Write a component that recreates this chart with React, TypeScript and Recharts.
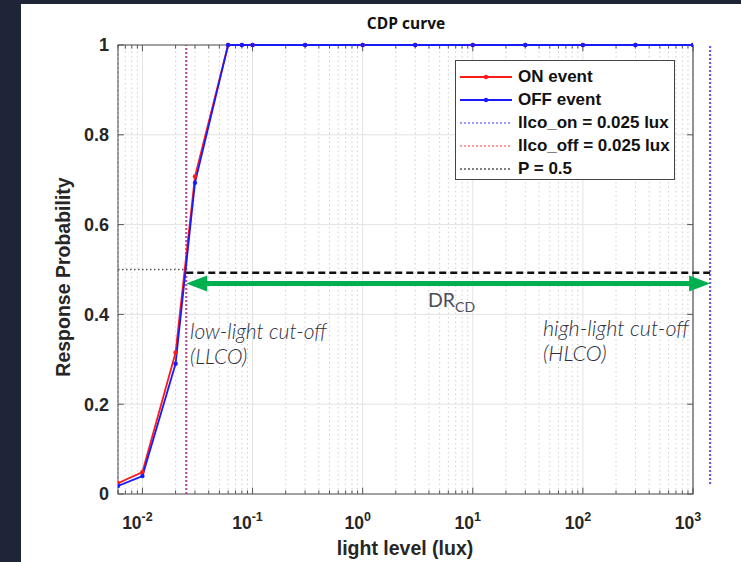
import React from 'react';
import { LineChart, Line, XAxis, YAxis, CartesianGrid, ReferenceLine, ReferenceArea } from 'recharts';

// light levels (lux) where the probability was measured
const luxLevels = [0.006, 0.01, 0.02, 0.03, 0.06, 0.08, 0.1, 0.3, 1, 3, 10, 30, 100, 300, 1000];
const onEvent = [0.024, 0.049, 0.315, 0.707, 1, 1, 1, 1, 1, 1, 1, 1, 1, 1, 1];
const offEvent = [0.018, 0.04, 0.29, 0.693, 1, 1, 1, 1, 1, 1, 1, 1, 1, 1, 1];

const xTicks = [0.01, 0.1, 1, 10, 100, 1000];
const yTicks = [0, 0.2, 0.4, 0.6, 0.8, 1];
const xDomain = [0.006, 1000];
const decades = [0.001, 0.01, 0.1, 1, 10, 100];
const minorSteps = [2, 3, 4, 5, 6, 7, 8, 9];

const llcoOn = 0.025;
const llcoOff = 0.025;
const hlco = 1430;
const pLevel = 0.5;
const dashLevel = 0.493;
const arrowLevel = 0.469;

const legendItems = [
  { label: 'ON event', color: '#ff1a1a', dash: '', dot: true },
  { label: 'OFF event', color: '#1a1aff', dash: '', dot: true },
  { label: 'llco_on = 0.025 lux', color: '#7a7aff', dash: '2 2', dot: false },
  { label: 'llco_off = 0.025 lux', color: '#ff7a7a', dash: '2 2', dot: false },
  { label: 'P = 0.5', color: '#555', dash: '2 2', dot: false },
];

const data = luxLevels.map((lux, i) => ({ lux, on: onEvent[i], off: offEvent[i] }));
const minorX = decades
  .flatMap((d) => minorSteps.map((m) => +(d * m).toPrecision(3)))
  .filter((v) => v >= xDomain[0] && v <= xDomain[1]);

const tickFont = '"Liberation Sans", Arial, sans-serif';
const noteFont = 'Lato, "Open Sans", sans-serif';

const LogTick = ({ x, y, payload }: any) => {
  const exp = Math.round(Math.log10(payload.value));
  return (
    <text x={x - 5} y={y + 33} textAnchor="middle" fontFamily={tickFont} fontWeight="bold" fontSize={17.5} fill="#262626">
      10<tspan dy={-8} fontSize={12.5}>{exp}</tspan>
    </text>
  );
};

const ArrowShape = (props: any) => {
  const { x1, y1, x2, stroke } = props;
  const head = 21;
  const half = 8;
  const left = Math.min(x1, x2);
  const right = Math.max(x1, x2);
  return (
    <g>
      <line x1={left + head - 2} y1={y1} x2={right - head + 2} y2={y1} stroke={stroke} strokeWidth={5} />
      <polygon points={`${left},${y1} ${left + head},${y1 - half} ${left + head},${y1 + half}`} fill={stroke} />
      <polygon points={`${right},${y1} ${right - head},${y1 - half} ${right - head},${y1 + half}`} fill={stroke} />
    </g>
  );
};

const LegendBox = () => (
  <div
    style={{
      position: 'absolute', left: 455, top: 60, border: '1px solid #444', background: '#fff',
      width: 220, height: 120, boxSizing: 'border-box', paddingTop: 4,
    }}
  >
    {legendItems.map((it) => (
      <div key={it.label} style={{ display: 'flex', alignItems: 'center', height: 23 }}>
        <svg width={62} height={12} style={{ flex: 'none' }}>
          <line x1={4} y1={6} x2={56} y2={6} stroke={it.color} strokeWidth={it.dot ? 2 : 1.5} strokeDasharray={it.dash} />
          {it.dot && <circle cx={30} cy={6} r={2.2} fill={it.color} />}
        </svg>
        <span style={{ fontFamily: tickFont, fontWeight: 'bold', fontSize: 17, color: '#111', whiteSpace: 'nowrap' }}>{it.label}</span>
      </div>
    ))}
  </div>
);

export default function App() {
  return (
    <div style={{ position: 'fixed', left: 0, top: 0, width: 741, height: 562, background: '#1e2536', overflow: 'hidden' }}>
      <div style={{ position: 'absolute', left: 21, top: 4, right: 0, bottom: 0, background: '#fff' }} />
      <div style={{ position: 'absolute', left: 0, top: 0 }}>
        <LineChart width={741} height={562} data={data} margin={{ top: 45, right: 48, bottom: 18, left: 58 }}>
          <CartesianGrid stroke="#e3e3e3" strokeWidth={1} />
          {minorX.map((v) => (
            <ReferenceLine key={`m${v}`} x={v} stroke="#cfcfcf" strokeDasharray="1.5 3" strokeWidth={1} />
          ))}
          {minorX.map((v) => (
            <ReferenceLine key={`tb${v}`} segment={[{ x: v, y: 0 }, { x: v, y: 0.008 }]} stroke="#555" />
          ))}
          {minorX.map((v) => (
            <ReferenceLine key={`tt${v}`} segment={[{ x: v, y: 1 }, { x: v, y: 0.992 }]} stroke="#555" />
          ))}
          {xTicks.map((v) => (
            <ReferenceLine key={`xb${v}`} segment={[{ x: v, y: 0 }, { x: v, y: 0.014 }]} stroke="#555" />
          ))}
          {xTicks.map((v) => (
            <ReferenceLine key={`xt${v}`} segment={[{ x: v, y: 1 }, { x: v, y: 0.986 }]} stroke="#555" />
          ))}
          {yTicks.map((v) => (
            <ReferenceLine key={`yl${v}`} segment={[{ x: xDomain[0], y: v }, { x: xDomain[0] * 1.13, y: v }]} stroke="#555" />
          ))}
          {yTicks.map((v) => (
            <ReferenceLine key={`yr${v}`} segment={[{ x: xDomain[1], y: v }, { x: xDomain[1] / 1.13, y: v }]} stroke="#555" />
          ))}
          <ReferenceArea x1={xDomain[0]} x2={xDomain[1]} y1={0} y2={1} fill="none" stroke="#555" strokeWidth={1.2} />
          <ReferenceLine segment={[{ x: xDomain[0], y: pLevel }, { x: llcoOn, y: pLevel }]} stroke="#555" strokeDasharray="1.5 2.5" strokeWidth={1.3} />
          <ReferenceLine x={llcoOff} stroke="#ff3030" strokeOpacity={0.85} strokeDasharray="2 2" strokeWidth={2} />
          <ReferenceLine x={llcoOn} stroke="#4a40ff" strokeOpacity={0.4} strokeDasharray="2 2" strokeWidth={2} />
          <XAxis
            dataKey="lux"
            type="number"
            scale="log"
            domain={xDomain}
            allowDataOverflow
            ticks={xTicks}
            tick={<LogTick />}
            tickLine={false}
            axisLine={false}
            tickSize={0}
            height={50}
          />
          <YAxis
            type="number"
            domain={[0, 1]}
            ticks={yTicks}
            tickFormatter={(v: number) => String(v)}
            tick={{ fontFamily: tickFont, fontWeight: 'bold', fontSize: 18, fill: '#262626' }}
            tickLine={false}
            axisLine={false}
            tickSize={0}
            tickMargin={9}
            width={60}
          />
          <Line dataKey="on" stroke="#ff1a1a" strokeWidth={1.8} dot={{ r: 2.2, fill: '#ff1a1a', stroke: 'none' }} isAnimationActive={false} />
          <Line dataKey="off" stroke="#1a1aff" strokeWidth={1.8} dot={{ r: 2.2, fill: '#1a1aff', stroke: 'none' }} isAnimationActive={false} />
          <ReferenceLine ifOverflow="visible" segment={[{ x: llcoOn, y: dashLevel }, { x: hlco, y: dashLevel }]} stroke="#111" strokeWidth={2.5} strokeDasharray="7 4" />
          <ReferenceLine ifOverflow="visible" segment={[{ x: llcoOn, y: arrowLevel }, { x: hlco, y: arrowLevel }]} stroke="#00b050" shape={<ArrowShape />} />
          <ReferenceLine ifOverflow="visible" segment={[{ x: hlco, y: 0.022 }, { x: hlco, y: 1 }]} stroke="#6a5ae8" strokeWidth={2.2} strokeDasharray="2 2" />
        </LineChart>
      </div>
      <LegendBox />
      <svg width={741} height={562} style={{ position: 'absolute', left: 0, top: 0, pointerEvents: 'none' }}>
        <text x={406} y={29} textAnchor="middle" fontFamily='"Open Sans", sans-serif' fontWeight="bold" fontSize={15.5} fill="#111">CDP curve</text>
        <text x={405} y={555} textAnchor="middle" fontFamily={tickFont} fontWeight="bold" fontSize={19.5} fill="#262626">light level (lux)</text>
        <text transform="translate(70,277) rotate(-90)" textAnchor="middle" fontFamily={tickFont} fontWeight="bold" fontSize={19.5} fill="#262626">Response Probability</text>
        <text x={428} y={307} fontFamily={noteFont} fontSize={19.5} fill="#4a4e5a">DR<tspan dy={5} fontSize={14}>CD</tspan></text>
        <text x={190} y={339} fontFamily={noteFont} fontStyle="italic" fontWeight={300} fontSize={21} fill="#2c3040">low-light cut-off</text>
        <text x={190} y={364} fontFamily={noteFont} fontStyle="italic" fontWeight={300} fontSize={21} fill="#2c3040">(LLCO)</text>
        <text x={543} y={336} fontFamily={noteFont} fontStyle="italic" fontWeight={300} fontSize={21.5} fill="#2c3040">high-light cut-off</text>
        <text x={543} y={361} fontFamily={noteFont} fontStyle="italic" fontWeight={300} fontSize={21.5} fill="#2c3040">(HLCO)</text>
      </svg>
    </div>
  );
}
